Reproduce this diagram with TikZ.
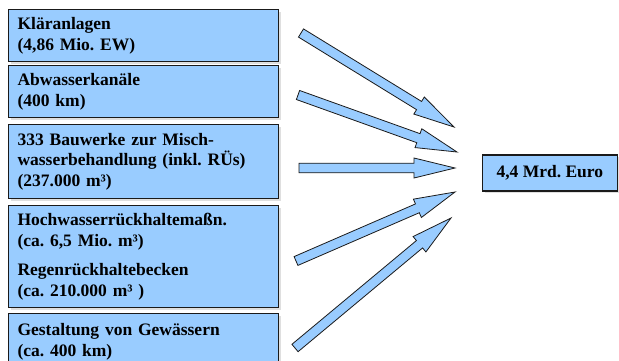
\documentclass[tikz,border=0pt]{standalone}
\usepackage{fontspec}
\setmainfont{Liberation Serif}
\usetikzlibrary{calc, shadows}
\definecolor{boxblue}{HTML}{99CCFF}
\definecolor{edge}{HTML}{1A1A1A}
\frenchspacing
\tikzset{
	item/.style={rectangle, draw=edge, line width=1.1pt, fill=boxblue, anchor=north west,
		minimum width=270pt, text width=252pt, inner xsep=9pt, inner ysep=0pt, align=left,
		font=\bfseries\fontsize{17.5}{20.5}\selectfont,
		drop shadow={shadow xshift=2pt, shadow yshift=-2pt, fill=black!25}},
	total/.style={rectangle, draw=edge, line width=1.1pt, fill=boxblue, anchor=west,
		minimum height=36pt, inner xsep=14pt,
		font=\bfseries\fontsize{17.5}{20.5}\selectfont,
		drop shadow={shadow xshift=2pt, shadow yshift=-2pt, fill=black!25}},
	blockarrow/.style={draw=edge, line width=.8pt, fill=boxblue, line join=miter}
}

\begin{document}
\begin{tikzpicture}[x=1pt, y=-1pt]
\useasboundingbox (0,0) rectangle (619,360);
\clip (0,0) rectangle (619,360);
% boxes on the left
\node[item, minimum height=52pt] (k1) at (8,9) {Kläranlagen\\(4,86 Mio. EW)};
\node[item, minimum height=52pt] (k2) at (8,65) {Abwasserkanäle\\(400 km)};
\node[item, minimum height=74pt] (k3) at (8,124) {333 Bauwerke zur Misch-\\wasserbehandlung (inkl. RÜs)\\(237.000 m³)};
\node[item, minimum height=102pt] (k4) at (8,205) {Hochwasserrückhaltemaßn.\\(ca. 6,5 Mio. m³)\\[9pt]Regenrückhaltebecken\\(ca. 210.000 m³ )};
\node[item, minimum height=56pt] (k5) at (8,313) {Gestaltung von Gewässern\\(ca. 400 km)};
% sum
\node[total] (sum) at (482,173) {4,4 Mrd. Euro};
% arrows
\coordinate (s1) at (301,33);  \coordinate (e1) at (454,127);
\coordinate (s2) at (298,95);  \coordinate (e2) at (457,152);
\coordinate (s3) at (299,168); \coordinate (e3) at (455,168);
\coordinate (s4) at (296,261); \coordinate (e4) at (455,192);
\coordinate (s5) at (295,348); \coordinate (e5) at (451,218);
\foreach \i in {1,...,5}{
	\coordinate (b\i) at ($(e\i)!41pt!(s\i)$);
	\draw[blockarrow] ($(s\i)!4.8pt!90:(e\i)$) -- ($(b\i)!4.8pt!90:(e\i)$)
		-- ($(b\i)!10pt!90:(e\i)$) -- (e\i) -- ($(b\i)!10pt!-90:(e\i)$)
		-- ($(b\i)!4.8pt!-90:(e\i)$) -- ($(s\i)!4.8pt!-90:(e\i)$) -- cycle;
}
\end{tikzpicture}
\end{document}
